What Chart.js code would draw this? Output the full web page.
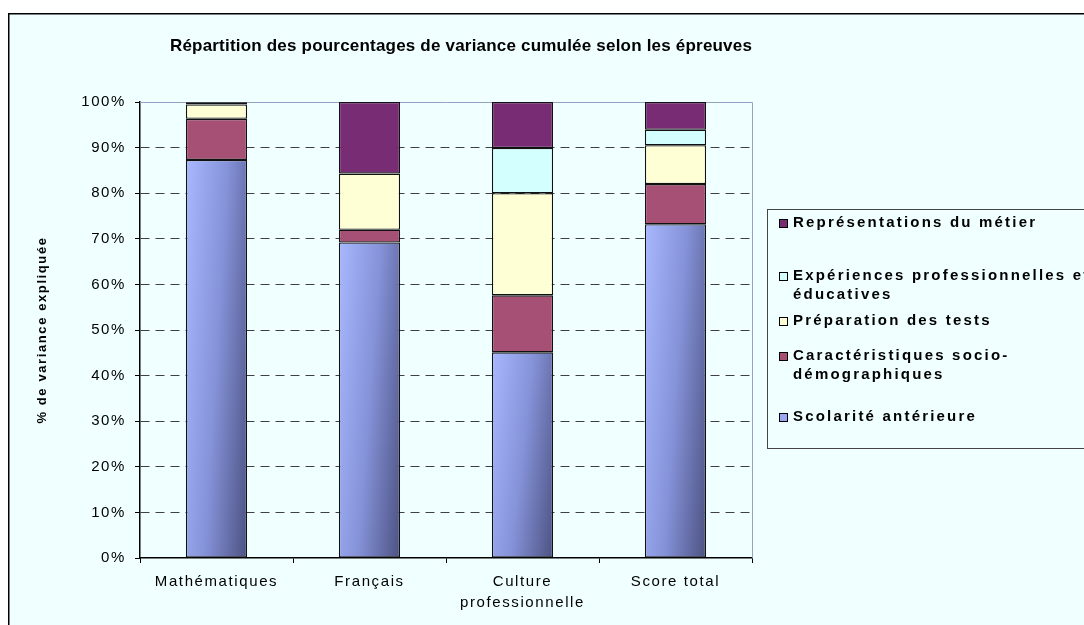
<!DOCTYPE html>
<html>
<head>
<meta charset="utf-8">
<script src="https://cdn.jsdelivr.net/npm/chart.js@4.4.1/dist/chart.umd.min.js"></script>
<style>
html,body{margin:0;padding:0;background:#fff;}
#wrap{width:1084px;height:625px;position:relative;overflow:hidden;}
canvas{display:block;}
</style>
</head>
<body>
<div id="wrap"><canvas id="c" width="1084" height="625"></canvas></div>
<script>
// ---- data ----
const chartTitle = 'Répartition des pourcentages de variance cumulée selon les épreuves';
const yAxisTitle = '% de variance expliquée';
const categories = ['Mathématiques', 'Français', ['Culture', 'professionnelle'], 'Score total'];
const yTickStep = 10;
const yMin = 0;
const yMax = 100;
const seriesNames = [
  'Scolarité antérieure',
  'Caractéristiques socio-démographiques',
  'Préparation des tests',
  'Expériences professionnelles et éducatives',
  'Représentations du métier'
];
const legendLines = [
  ['Scolarité antérieure'],
  ['Caractéristiques socio-', 'démographiques'],
  ['Préparation des tests'],
  ['Expériences professionnelles et', 'éducatives'],
  ['Représentations du métier']
];
const scolarite       = [87.3, 69.2, 45.1, 73.2];
const socio           = [9.0,  2.8,  12.5, 8.8];
const preparation     = [3.15, 12.3, 22.4, 8.5];
const experiences     = [0.4,  0,    9.9,  3.4];
const representations = [0.15, 15.7, 10.1, 6.1];
const seriesColors = ['#99A7F0', '#A75075', '#FFFFD5', '#D4FFFF', '#772C73'];

// ---- styling ----
const BG = '#F0FFFF';
const FONT = '"Liberation Sans", Arial, Helvetica, sans-serif';
const BAR_PCT = 0.4;
const legendRowY = [417, 356, 321, 276, 223]; // first-line centre of each entry (same order as series)

Chart.defaults.font.family = FONT;
Chart.defaults.color = '#000';

function scolGradient(c) {
  const chart = c.chart;
  const xs = chart.scales.x, ys = chart.scales.y;
  if (!xs || !ys || !chart.chartArea || c.type !== 'data') return seriesColors[0];
  const cx = xs.getPixelForValue(c.dataIndex);
  const w = (chart.chartArea.width / categories.length) * BAR_PCT;
  const x0 = cx - w / 2;
  const y0 = ys.getPixelForValue(c.raw);
  const y1 = ys.getPixelForValue(0);
  const h = Math.max(1, y1 - y0);
  const a = 0.72, b = 0.28;
  const gx = a / w, gy = b / h, g2 = gx * gx + gy * gy;
  const grad = chart.ctx.createLinearGradient(x0, y0, x0 + gx / g2, y0 + gy / g2);
  grad.addColorStop(0, '#A8B8FF');
  grad.addColorStop(0.5, '#8592D8');
  grad.addColorStop(1, '#4C5282');
  return grad;
}

const seriesData = [scolarite, socio, preparation, experiences, representations];
const datasets = seriesNames.map((name, i) => ({
  label: name,
  data: seriesData[i],
  backgroundColor: i === 0 ? scolGradient : seriesColors[i],
  borderColor: '#111',
  borderWidth: 1.3,
  borderSkipped: false,
  barPercentage: BAR_PCT,
  categoryPercentage: 1
}));

const framePlugin = {
  id: 'frame',
  beforeDraw(chart) {
    const ctx = chart.ctx, W = chart.width, H = chart.height;
    ctx.fillStyle = '#fff';
    ctx.fillRect(0, 0, W, H);
    ctx.fillStyle = BG;
    ctx.fillRect(8, 13, W, H);
    ctx.strokeStyle = '#000';
    ctx.lineWidth = 1.5;
    ctx.beginPath();
    ctx.moveTo(8.75, H + 5);
    ctx.lineTo(8.75, 13.75);
    ctx.lineTo(W + 5, 13.75);
    ctx.stroke();
    ctx.letterSpacing = '1.6px';
  },
  beforeDatasetsDraw(chart) {
    const ctx = chart.ctx, a = chart.chartArea;
    ctx.save();
    ctx.strokeStyle = '#98A2C2';
    ctx.lineWidth = 1;
    ctx.beginPath();
    ctx.moveTo(a.left, a.top + 0.5);
    ctx.lineTo(a.right + 0.5, a.top + 0.5);
    ctx.lineTo(a.right + 0.5, a.bottom);
    ctx.stroke();
    ctx.restore();
  },
  afterDraw(chart) {
    const ctx = chart.ctx;
    ctx.save();
    // title
    ctx.letterSpacing = '0.2px';
    ctx.font = 'bold 17px ' + FONT;
    ctx.fillStyle = '#000';
    ctx.textAlign = 'center';
    ctx.textBaseline = 'middle';
    ctx.fillText(chartTitle, 461, 46);
    // legend box
    const lx = 767, ly = 209, lw = 400, lh = 239;
    ctx.fillStyle = BG;
    ctx.fillRect(lx, ly, lw, lh);
    ctx.strokeStyle = '#444';
    ctx.lineWidth = 1;
    ctx.strokeRect(lx + 0.5, ly + 0.5, lw, lh);
    ctx.font = 'bold 15px ' + FONT;
    ctx.letterSpacing = '2.2px';
    ctx.textAlign = 'left';
    for (let i = chart.data.datasets.length - 1; i >= 0; i--) {
      const y = legendRowY[i];
      const ds = chart.data.datasets[i];
      ctx.fillStyle = i === 0 ? seriesColors[0] : ds.backgroundColor;
      ctx.fillRect(779, y - 4, 9, 9);
      ctx.strokeStyle = '#000';
      ctx.strokeRect(779.5, y - 3.5, 8, 8);
      ctx.fillStyle = '#000';
      legendLines[i].forEach((line, k) => ctx.fillText(line, 793, y + k * 19));
    }
    ctx.restore();
  }
};

new Chart(document.getElementById('c'), {
  type: 'bar',
  data: { labels: categories, datasets },
  plugins: [framePlugin],
  options: {
    responsive: false,
    animation: false,
    layout: { padding: { top: 102, right: 332, bottom: 0, left: 0 } },
    plugins: { legend: { display: false }, title: { display: false }, tooltip: { enabled: false } },
    scales: {
      x: {
        stacked: true,
        afterFit(s) { s.height = 67; },
        grid: { offset: true, drawOnChartArea: false, drawTicks: true, tickLength: 5, color: '#000', tickColor: '#000' },
        border: { display: true, color: '#000', width: 1.5 },
        ticks: { font: { size: 15, lineHeight: 1.4 }, color: '#000', padding: 8, maxRotation: 0, autoSkip: false }
      },
      y: {
        stacked: true,
        min: yMin,
        max: yMax,
        afterFit(s) { s.width = 140; },
        grid: {
          color: (c) => (c.tick && (c.tick.value === yMin || c.tick.value === yMax)) ? 'rgba(0,0,0,0)' : '#404040',
          tickColor: '#000',
          tickLength: 5,
          lineWidth: 1
        },
        border: { display: true, color: '#000', width: 1.5, dash: [9, 6] },
        ticks: {
          stepSize: yTickStep,
          font: { size: 15 },
          color: '#000',
          padding: 9,
          callback: (v) => v + '%'
        },
        title: {
          display: true,
          text: yAxisTitle,
          font: { size: 13, weight: 'bold' },
          color: '#000',
          padding: { top: 35, bottom: 0 }
        }
      }
    }
  }
});
</script>
</body>
</html>
